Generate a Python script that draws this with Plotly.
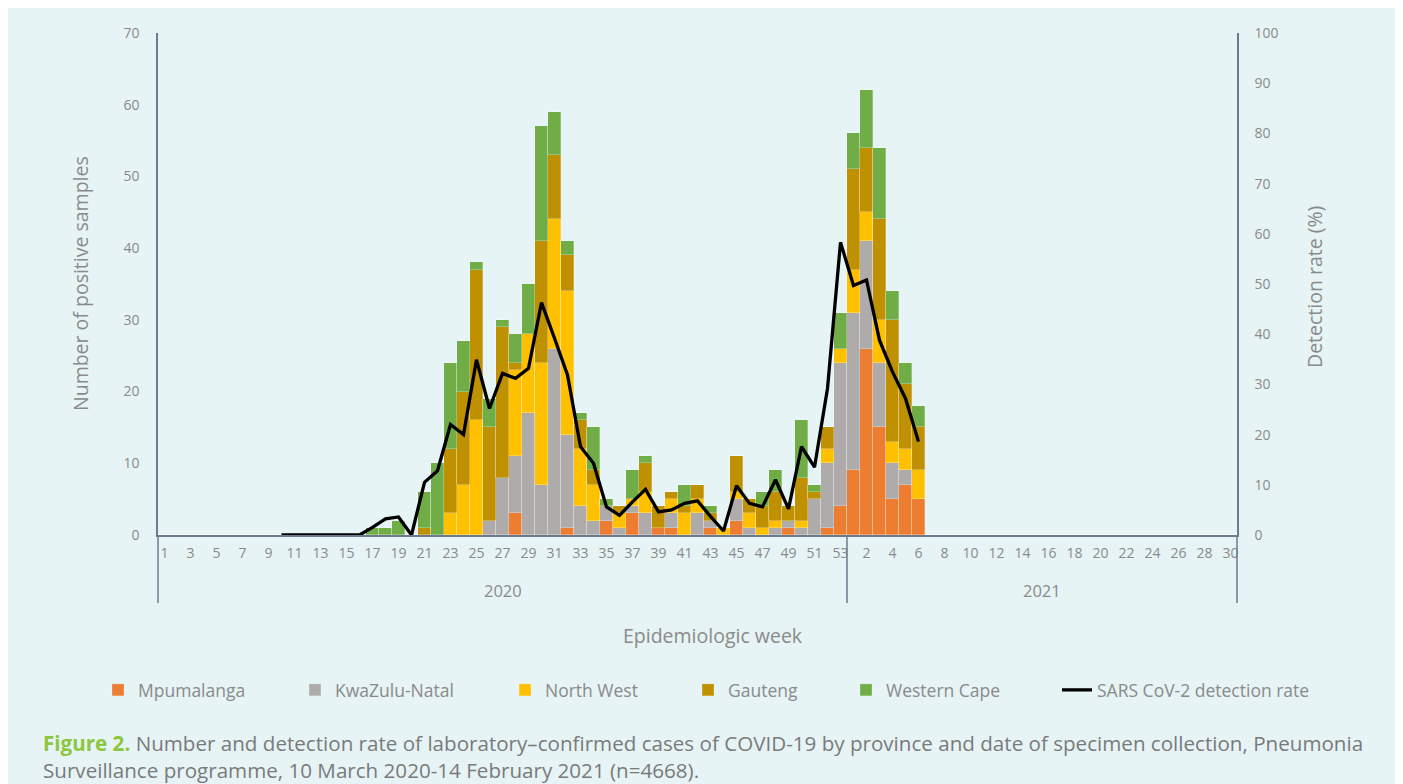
import plotly.graph_objects as go

# ---------------- data ----------------
weeks_2020 = list(range(1, 54))
weeks_2021 = list(range(1, 31))
n_cat = len(weeks_2020) + len(weeks_2021)

def series(d2020, d2021):
    vals = [0] * n_cat
    for w, v in d2020.items():
        vals[w - 1] = v
    for w, v in d2021.items():
        vals[53 + w - 1] = v
    return vals

mpumalanga = series({28: 3, 32: 1, 35: 2, 37: 3, 39: 1, 40: 1, 43: 1, 45: 2, 49: 1, 52: 1, 53: 4},
                    {1: 9, 2: 26, 3: 15, 4: 5, 5: 7, 6: 5})
kwazulu_natal = series({26: 2, 27: 8, 28: 8, 29: 17, 30: 7, 31: 26, 32: 13, 33: 4, 34: 2, 35: 2, 36: 1,
                        37: 1, 38: 3, 40: 2, 42: 3, 43: 1, 45: 3, 46: 1, 48: 1, 49: 1, 50: 1, 51: 5,
                        52: 9, 53: 20},
                       {1: 22, 2: 15, 3: 9, 4: 5, 5: 2})
north_west = series({23: 3, 24: 7, 25: 16, 28: 12, 29: 11, 30: 17, 31: 18, 32: 20, 33: 8, 34: 5, 36: 2,
                     37: 1, 38: 3, 40: 2, 41: 3, 42: 2, 44: 1, 45: 1, 46: 2, 47: 1, 48: 1, 50: 1,
                     52: 2, 53: 2},
                    {1: 6, 2: 4, 3: 6, 4: 3, 5: 3, 6: 4})
gauteng = series({21: 1, 23: 9, 24: 13, 25: 21, 26: 13, 27: 21, 28: 1, 30: 17, 31: 9, 32: 5, 33: 4,
                  34: 2, 36: 1, 38: 4, 39: 3, 40: 1, 41: 1, 42: 2, 43: 1, 45: 5, 46: 2, 47: 3, 48: 4,
                  49: 2, 50: 6, 51: 1, 52: 3},
                 {1: 14, 2: 9, 3: 14, 4: 17, 5: 9, 6: 6})
western_cape = series({17: 1, 18: 1, 19: 2, 21: 5, 22: 10, 23: 12, 24: 7, 25: 1, 26: 4, 27: 1, 28: 4,
                       29: 7, 30: 16, 31: 6, 32: 2, 33: 1, 34: 6, 35: 1, 37: 4, 38: 1, 41: 3, 43: 1,
                       47: 2, 48: 3, 50: 8, 51: 1, 53: 5},
                      {1: 5, 2: 8, 3: 10, 4: 4, 5: 3, 6: 3})

# detection rate (%) 2020 weeks 10..53, 2021 weeks 1..6
rate_2020_w10_53 = [0, 0, 0, 0, 0, 0, 0, 1.5, 3.2, 3.6, 0, 10.5, 12.8, 22, 20, 34.9, 25.2, 32.2, 31.2,
                    33.2, 46.3, 39.2, 31.9, 17.6, 14.3, 5.6, 3.9, 6.6, 9.1, 4.6, 5.0, 6.3, 6.8, 3.7,
                    0.8, 9.8, 6.3, 5.6, 11, 5.2, 17.6, 13.5, 29.2, 58.3]
rate_2021_w1_6 = [49.7, 50.8, 38.8, 32.5, 27.2, 18.6]

tick_labels_2020 = [str(w) for w in weeks_2020 if w % 2 == 1]
tick_labels_2021 = [str(w) for w in weeks_2021 if w % 2 == 0]
years = ["2020", "2021"]

# ---------------- figure ----------------
x = list(range(n_cat))
rate_x = list(range(9, 53)) + list(range(53, 59))
rate_y = rate_2020_w10_53 + rate_2021_w1_6

provinces = [
    ("Mpumalanga", mpumalanga, "#ED7D31"),
    ("KwaZulu-Natal", kwazulu_natal, "#AFABAB"),
    ("North West", north_west, "#FFC000"),
    ("Gauteng", gauteng, "#BF9000"),
    ("Western Cape", western_cape, "#70AD47"),
]

BG = "#E6F4F5"
TXT = "#8A8A8A"
AX = "#6B7C8E"
FONT = "Open Sans"

# page coordinates (page has 8px body margin)
OFF = 8
W, H = 1403 - 2 * OFF, 784 - OFF
L, R, T, B = 158 - OFF, 1237 - OFF, 33 - OFF, 535 - OFF
pw, ph = R - L, B - T

def px(xp):
    return (xp - OFF - L) / pw

def py(yp):
    return (B - (yp - OFF)) / ph

legend_ids = ["legend", "legend2", "legend3", "legend4", "legend5", "legend6"]
legend_x_page = [98, 295, 505, 688, 846, 1057]

fig = go.Figure()
for i, (name, vals, col) in enumerate(provinces):
    fig.add_trace(go.Bar(x=x, y=vals, name=name, legend=legend_ids[i],
                         marker=dict(color=col, line=dict(color="rgba(255,255,255,0.45)", width=0.6)),
                         yaxis="y"))
fig.add_trace(go.Scatter(x=rate_x, y=rate_y, name="SARS CoV-2 detection rate", mode="lines",
                         legend=legend_ids[5], line=dict(color="black", width=3.3), yaxis="y2"))

tickvals = [w - 1 for w in weeks_2020 if w % 2 == 1] + [53 + w - 1 for w in weeks_2021 if w % 2 == 0]
ticktext = tick_labels_2020 + tick_labels_2021

shapes = [
    dict(type="line", xref="paper", yref="paper", x0=0, x1=0, y0=py(603), y1=0, line=dict(color=AX, width=1.5)),
    dict(type="line", xref="x", yref="paper", x0=52.5, x1=52.5, y0=py(603), y1=0, line=dict(color=AX, width=1.5)),
    dict(type="line", xref="paper", yref="paper", x0=1, x1=1, y0=py(603), y1=0, line=dict(color=AX, width=1.5)),
]

annotations = [
    dict(text=years[0], x=26, xref="x", y=py(590), yref="paper", xanchor="center", yanchor="middle",
         showarrow=False, font=dict(size=16.5, color=TXT, family=FONT)),
    dict(text=years[1], x=67.5, xref="x", y=py(590), yref="paper", xanchor="center", yanchor="middle",
         showarrow=False, font=dict(size=16.5, color=TXT, family=FONT)),
    dict(text="Epidemiologic week", x=px(713), xref="paper", y=py(635), yref="paper",
         xanchor="center", yanchor="middle", showarrow=False, font=dict(size=19.5, color=TXT, family=FONT)),
    dict(text="Number of positive samples", x=px(80), xref="paper", y=py(284), yref="paper",
         xanchor="center", yanchor="middle", showarrow=False,
         textangle=-90, font=dict(size=19.5, color=TXT, family=FONT)),
    dict(text="Detection rate (%)", x=px(1314), xref="paper", y=py(287), yref="paper",
         xanchor="center", yanchor="middle", showarrow=False,
         textangle=-90, font=dict(size=19.5, color=TXT, family=FONT)),
    dict(text="<b><span style='color:#8DC63F'>Figure 2.</span></b> Number and detection rate of laboratory–confirmed cases of COVID-19 by province and date of specimen collection, Pneumonia<br>Surveillance programme, 10 March 2020-14 February 2021 (n=4668).",
         x=px(41), xref="paper", xanchor="left", y=py(756), yref="paper", yanchor="middle", align="left",
         showarrow=False, font=dict(size=20.6, color="#7A7A7A", family=FONT)),
]

layout_legends = {}
for lid, lx in zip(legend_ids, legend_x_page):
    layout_legends[lid] = dict(orientation="h", x=px(lx), xanchor="left", y=py(690), yanchor="middle",
                               font=dict(size=17.5, color=TXT, family=FONT),
                               bgcolor="rgba(0,0,0,0)")

fig.update_layout(
    width=W, height=H,
    margin=dict(l=L, r=W - R, t=T, b=H - B),
    paper_bgcolor=BG, plot_bgcolor=BG,
    barmode="stack", bargap=0,
    font=dict(family=FONT, color=TXT, size=14),
    showlegend=True,
    xaxis=dict(range=[-0.5, n_cat - 0.5], tickmode="array", tickvals=tickvals, ticktext=ticktext,
               showgrid=False, zeroline=False, showline=True, linecolor=AX, linewidth=1.5,
               ticks="", tickfont=dict(size=14, color=TXT, family=FONT), ticklabelstandoff=4),
    yaxis=dict(range=[0, 70], dtick=10, showgrid=False, zeroline=False, showline=True, linecolor=AX,
               linewidth=1.5, ticks="", tickfont=dict(size=14, color=TXT, family=FONT), ticklabelstandoff=14),
    yaxis2=dict(range=[0, 100], dtick=10, overlaying="y", side="right", showgrid=False, zeroline=False,
                showline=True, linecolor=AX, linewidth=1.5, ticks="",
                tickfont=dict(size=14, color=TXT, family=FONT), ticklabelstandoff=13),
    shapes=shapes,
    annotations=annotations,
    **layout_legends,
)

fig.write_html("out.html")
